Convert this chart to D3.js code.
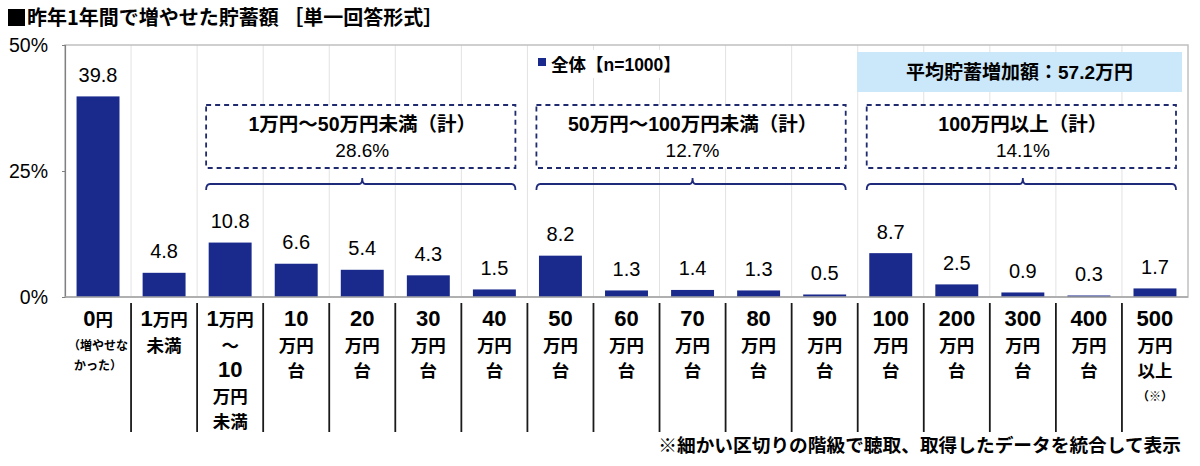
<!DOCTYPE html>
<html>
<head>
<meta charset="utf-8">
<script src="https://cdn.jsdelivr.net/npm/d3@7"></script>
<style>
    body { margin: 0; background: #fff; }
    text { font-family: "Liberation Sans", "Noto Sans CJK JP", sans-serif; }
</style>
</head>
<body>
<div id="chart"></div>
<script>
// Chart data
const categories = ["0円", "1万円|未満", "1万円|～|10|万円|未満", "10|万円|台", "20|万円|台", "30|万円|台",
    "40|万円|台", "50|万円|台", "60|万円|台", "70|万円|台", "80|万円|台", "90|万円|台",
    "100|万円|台", "200|万円|台", "300|万円|台", "400|万円|台", "500|万円|以上"];
const categoryNotes = ["（増やせな|かった）", "", "", "", "", "", "", "", "", "", "", "", "", "", "", "", "（※）"];
const values = [39.8, 4.8, 10.8, 6.6, 5.4, 4.3, 1.5, 8.2, 1.3, 1.4, 1.3, 0.5, 8.7, 2.5, 0.9, 0.3, 1.7];
const yTicks = [0, 25, 50];

const groupLabels = ["1万円～50万円未満（計）", "50万円～100万円未満（計）", "100万円以上（計）"];
const groupTotals = ["28.6%", "12.7%", "14.1%"];
const groupStarts = [2, 7, 12];
const groupEnds = [6, 11, 16];

const title = "昨年1年間で増やせた貯蓄額 ［単一回答形式］";
const legendLabel = "全体【n=1000】";
const averageLabel = "平均貯蓄増加額：57.2万円";
const footnote = "※細かい区切りの階級で聴取、取得したデータを統合して表示";

const width = 1200;
const height = 466;
const plot = { left: 65, right: 1188, top: 45, bottom: 297 };
const navy = "#1a2a8c";

const svg = d3.select('#chart').append('svg')
    .attr('width', width)
    .attr('height', height)
    .attr('viewBox', `0 0 ${width} ${height}`);

const x = d3.scaleBand()
    .domain(categories)
    .range([plot.left, plot.right])
    .paddingInner(0.35)
    .paddingOuter(0.175);

const y = d3.scaleLinear()
    .domain([0, 50])
    .range([plot.bottom, plot.top]);

// left edge of the slot i (so slot boundaries)
const slotEdge = i => plot.left + i * x.step();

// title (the black square is drawn, the font's ■ is too small)
svg.append('rect')
    .attr('x', 8).attr('y', 9)
    .attr('width', 17).attr('height', 17)
    .attr('fill', '#000');
svg.append('text')
    .attr('x', 27)
    .attr('y', 25)
    .attr('font-size', 20)
    .attr('font-weight', 'bold')
    .attr('fill', '#000')
    .style('font-family', '"Noto Sans CJK JP", sans-serif')
    .text(title);

// vertical gridlines
svg.append('g')
    .selectAll('line')
    .data(d3.range(1, categories.length))
    .enter().append('line')
    .attr('x1', i => slotEdge(i))
    .attr('x2', i => slotEdge(i))
    .attr('y1', plot.top)
    .attr('y2', plot.bottom)
    .attr('stroke', '#e2e2e2')
    .attr('stroke-width', 1);

// plot border
svg.append('rect')
    .attr('x', plot.left)
    .attr('y', plot.top)
    .attr('width', plot.right - plot.left)
    .attr('height', plot.bottom - plot.top)
    .attr('fill', 'none')
    .attr('stroke', '#c0c0c0')
    .attr('stroke-width', 1.5);

// bars
svg.append('g')
    .selectAll('rect')
    .data(values)
    .enter().append('rect')
    .attr('x', (d, i) => x(categories[i]))
    .attr('y', d => y(d))
    .attr('width', x.bandwidth())
    .attr('height', d => y(0) - y(d))
    .attr('fill', navy);

// value labels
svg.append('g')
    .selectAll('text')
    .data(values)
    .enter().append('text')
    .attr('x', (d, i) => x(categories[i]) + x.bandwidth() / 2)
    .attr('y', d => y(d) - 14.5)
    .attr('text-anchor', 'middle')
    .attr('font-size', 20)
    .attr('fill', '#000')
    .text(d => d.toFixed(1));

// y axis
const yAxis = svg.append('g')
    .attr('transform', `translate(${plot.left},0)`)
    .call(d3.axisLeft(y).tickValues(yTicks).tickSize(3).tickPadding(14).tickFormat(d => d + '%'));
yAxis.select('.domain').attr('stroke', '#808080').attr('stroke-width', 1.2);
yAxis.selectAll('.tick line').attr('stroke', '#808080');
yAxis.selectAll('.tick text')
    .attr('font-size', 19.5)
    .attr('fill', '#000')
    .style('font-family', '"Liberation Sans", sans-serif');

// x baseline
svg.append('line')
    .attr('x1', plot.left)
    .attr('x2', plot.right)
    .attr('y1', y(0))
    .attr('y2', y(0))
    .attr('stroke', '#a6a6a6')
    .attr('stroke-width', 1.5);

// category dividers under the axis
svg.append('g')
    .selectAll('line')
    .data(d3.range(1, categories.length))
    .enter().append('line')
    .attr('x1', i => slotEdge(i))
    .attr('x2', i => slotEdge(i))
    .attr('y1', 303)
    .attr('y2', 432)
    .attr('stroke', '#1a1a1a')
    .attr('stroke-width', 1.8);

// digits in the category labels look bigger than the kanji, so split into runs
function addRuns(textSel, line, digitSize, kanjiSize) {
    const runs = line.match(/[0-9]+|[^0-9]+/g) || [];
    runs.forEach(r => {
        const isDigit = /^[0-9]+$/.test(r);
        textSel.append('tspan')
            .style('font-size', (isDigit ? digitSize : kanjiSize) + 'px')
            .style('font-family', isDigit ? '"Liberation Sans", sans-serif' : '"Noto Sans CJK JP", sans-serif')
            .text(r);
    });
}

// category labels
const catG = svg.append('g');
categories.forEach((cat, i) => {
    const cx = x(cat) + x.bandwidth() / 2;
    const lines = cat.split('|');
    lines.forEach((line, j) => {
        const t = catG.append('text')
            .attr('x', cx)
            .attr('y', 326 + j * 25.5)
            .attr('text-anchor', 'middle')
            .attr('font-weight', 'bold')
            .attr('fill', '#000');
        addRuns(t, line, 22, 17.5);
    });
    if (categoryNotes[i]) {
        const start = 326 + (lines.length - 1) * 25.5 + 24;
        categoryNotes[i].split('|').forEach((line, j) => {
            catG.append('text')
                .attr('x', cx)
                .attr('y', start + j * 20)
                .attr('text-anchor', 'middle')
                .attr('font-size', 12)
                .attr('font-weight', 'bold')
                .attr('fill', '#000')
                .text(line);
        });
    }
});

// legend
svg.append('rect')
    .attr('x', 530).attr('y', 50)
    .attr('width', 166).attr('height', 28)
    .attr('fill', '#fff');
svg.append('rect')
    .attr('x', 538).attr('y', 58)
    .attr('width', 8).attr('height', 8)
    .attr('fill', navy);
svg.append('text')
    .attr('x', 551)
    .attr('y', 71)
    .attr('font-size', 17.5)
    .attr('font-weight', 'bold')
    .attr('fill', '#000')
    .text(legendLabel);

// average box
svg.append('rect')
    .attr('x', 857).attr('y', 52)
    .attr('width', 325).attr('height', 40)
    .attr('fill', '#cbe8fb');
svg.append('text')
    .attr('x', 1019.5)
    .attr('y', 79)
    .attr('text-anchor', 'middle')
    .attr('font-size', 19)
    .attr('font-weight', 'bold')
    .attr('fill', '#000')
    .text(averageLabel);

// group boxes and braces
const groupG = svg.append('g');
groupLabels.forEach((label, g) => {
    const x0 = slotEdge(groupStarts[g]);
    const x1 = slotEdge(groupEnds[g] + 1);
    const bl = x0 + 9;
    const br = x1 - 12;
    const cx = (x0 + x1) / 2;

    groupG.append('rect')
        .attr('x', bl).attr('y', 105)
        .attr('width', br - bl).attr('height', 63)
        .attr('fill', '#fff')
        .attr('stroke', '#1f2a6f')
        .attr('stroke-width', 1.8)
        .attr('stroke-dasharray', '5,4');

    groupG.append('text')
        .attr('x', cx)
        .attr('y', 131)
        .attr('text-anchor', 'middle')
        .attr('font-size', 19.5)
        .attr('font-weight', 'bold')
        .attr('fill', '#000')
        .text(label);

    groupG.append('text')
        .attr('x', cx)
        .attr('y', 157)
        .attr('text-anchor', 'middle')
        .attr('font-size', 19)
        .attr('fill', '#000')
        .text(groupTotals[g]);

    const by = 184;
    const brace = d3.path();
    brace.moveTo(bl, by + 6);
    brace.quadraticCurveTo(bl, by, bl + 4, by);
    brace.lineTo(cx - 3, by);
    brace.quadraticCurveTo(cx, by, cx, by - 6);
    brace.quadraticCurveTo(cx, by, cx + 3, by);
    brace.lineTo(br - 4, by);
    brace.quadraticCurveTo(br, by, br, by + 6);
    groupG.append('path')
        .attr('d', brace.toString())
        .attr('fill', 'none')
        .attr('stroke', '#1f2a7a')
        .attr('stroke-width', 1.8);
});

// footnote
svg.append('text')
    .attr('x', 1181)
    .attr('y', 452)
    .attr('text-anchor', 'end')
    .attr('font-size', 18.7)
    .attr('font-weight', 'bold')
    .attr('fill', '#000')
    .text(footnote);
</script>
</body>
</html>
